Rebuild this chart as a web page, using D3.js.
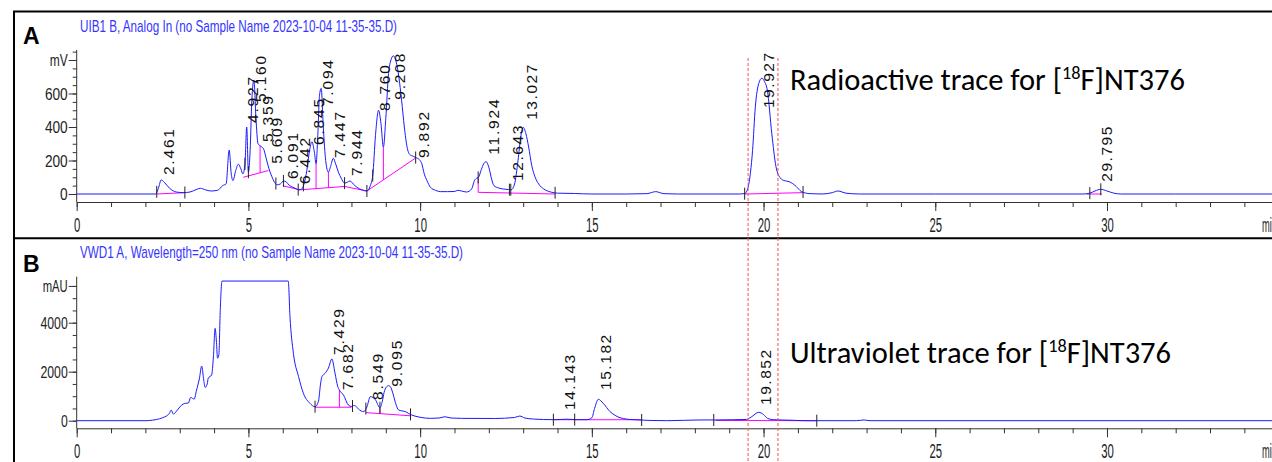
<!DOCTYPE html>
<html><head><meta charset="utf-8">
<script src="https://cdn.jsdelivr.net/npm/d3@7"></script>
<style>html,body{margin:0;padding:0;background:#fff;overflow:hidden}</style>
</head><body>
<svg id="c" width="1272" height="462" xmlns="http://www.w3.org/2000/svg"></svg>
<script>
// ---------------- DATA ----------------
// Panel A: radioactive trace (mV)
const TIME_A = [0,2.3,2.38,2.46,2.55,2.7,2.9,3.1,3.3,3.5,3.6,3.75,3.9,4.1,4.25,4.35,4.44,4.5,4.55,4.63,4.71,4.78,4.84,4.9,4.95,5.0,5.05,5.1,5.16,5.22,5.28,5.36,5.44,5.52,5.6,5.68,5.76,5.84,5.93,6.02,6.1,6.2,6.3,6.4,6.47,6.55,6.62,6.7,6.78,6.85,6.92,6.97,7.02,7.07,7.12,7.18,7.25,7.33,7.4,7.47,7.54,7.62,7.7,7.8,7.88,7.96,8.05,8.16,8.3,8.45,8.55,8.62,8.7,8.79,8.86,8.93,9.0,9.08,9.15,9.22,9.3,9.38,9.46,9.54,9.62,9.7,9.8,9.9,9.98,10.05,10.12,10.2,10.3,10.45,10.6,10.8,11.0,11.1,11.2,11.35,11.5,11.58,11.65,11.7,11.78,11.85,11.92,12.0,12.08,12.15,12.3,12.5,12.65,12.75,12.85,12.93,13.0,13.08,13.16,13.25,13.35,13.45,13.6,13.8,14.0,14.5,15.0,16.0,16.6,16.86,17.1,17.5,18.5,19.3,19.45,19.55,19.62,19.68,19.76,19.86,19.95,20.03,20.11,20.24,20.36,20.49,20.6,20.74,20.85,20.95,21.1,21.35,21.7,22.0,22.17,22.4,22.8,25,29.3,29.5,29.65,29.82,30.0,30.2,30.4,32,35];
const MV_A = [0,0,35,84,70,35,12,8,12,28,34,25,18,22,50,60,262,120,80,140,178,150,120,180,400,130,260,560,680,450,300,285,270,210,150,105,70,55,60,78,72,50,40,30,25,30,60,140,260,312,250,180,350,590,631,400,200,130,170,213,180,130,95,65,70,78,60,40,25,18,50,110,350,500,420,280,450,720,800,825,790,700,560,400,280,235,225,215,205,180,120,80,40,22,14,14,15,22,18,12,30,80,95,100,145,180,193,160,90,50,35,28,25,60,200,340,398,360,280,170,100,60,30,12,5,3,0,0,2,14,2,0,0,0,2,40,130,260,520,660,691,670,620,360,165,95,80,74,62,45,15,2,0,8,18,5,0,0,0,5,18,28,18,5,0,0,0];

// Panel B: UV trace (mAU)
const TIME_B = [0,1.99,2.2,2.33,2.5,2.61,2.7,2.75,2.82,2.9,3.01,3.1,3.16,3.25,3.32,3.42,3.49,3.57,3.64,3.7,3.74,3.8,3.83,3.93,3.98,4.03,4.07,4.1,4.14,4.18,4.23,6.16,6.21,6.31,6.46,6.6,6.79,6.94,7.04,7.1,7.14,7.23,7.33,7.43,7.52,7.6,7.65,7.77,7.91,8.0,8.06,8.12,8.2,8.36,8.45,8.55,8.63,8.7,8.83,8.9,8.95,9.02,9.08,9.15,9.22,9.3,9.37,9.47,9.57,9.66,9.76,10.0,10.3,10.55,10.72,10.9,11.2,12.17,12.75,12.9,13.05,13.3,13.88,14.27,14.5,14.85,15.0,15.08,15.19,15.33,15.53,15.7,15.82,16.2,17.18,18.15,18.6,19.1,19.5,19.64,19.86,20.0,20.12,20.3,20.8,21.2,22.7,22.93,23.1,35];
const MAU_B = [0,0,20,50,120,190,300,430,270,380,570,680,710,720,950,880,1250,1700,2230,1650,1360,1500,1730,1870,2600,3770,3200,2550,2700,4500,5700,5700,4250,2750,1800,1120,710,570,800,1500,1800,1930,2150,2520,1950,1400,1250,1040,640,580,620,600,480,370,560,980,950,850,530,800,1150,1380,1430,1350,1050,650,440,400,370,300,230,140,95,110,160,110,95,90,130,190,110,68,41,60,45,41,120,500,873,710,370,200,122,41,0,30,30,40,50,150,343,250,90,40,20,0,0,30,0,0];

// Peak labels (retention time text) and the signal level where each label starts
const LABEL_A = ["2.461","4.927","5.160","5.359","5.609","6.091","6.442","6.845","7.094","7.447","7.944","8.760","9.208","9.892","11.924","12.643","13.027","19.927","29.795"];
const LABEL_A_V = [113,424,550,310,180,90,60,293,525,215,107,495,563,215,235,78,443,513,73];
const LABEL_B = ["7.429","7.682","8.549","9.095","14.143","15.182","19.852"];
const LABEL_B_V = [2680,1250,845,1387,437,1253,640];

// Integration baselines (time, value) and peak-split drop lines
const BASE_A = [[[2.33,0],[3.15,8]],[[4.85,100],[5.58,140]],[[6.02,48],[6.5,25],[7.8,45],[8.45,18]],[[8.45,18],[9.87,215]],[[11.69,10],[13.93,0]],[[19.45,0],[21.15,8]],[[29.4,0],[29.85,0]]];
const DROP_A = [5.34,6.97,7.33,8.93,11.69];
const BASE_B = [[[6.94,550],[8.0,550]],[[8.42,330],[9.72,200]],[[13.88,40],[16.45,40]],[[18.6,10],[21.55,0]]];
const DROP_B = [7.65,8.83];
// Integration event markers (times)
const MARK_A = [2.33,3.15,4.9,5.0,5.8,6.02,6.45,6.6,7.8,8.45,8.62,9.87,11.69,12.6,12.64,13.93,19.45,21.15,29.5,29.82];
const MARK_B = [6.94,8.03,8.42,8.83,9.72,13.88,14.5,16.45,18.55,21.55];

// Axis ticks
const X_MAJOR = [0,5,10,15,20,25,30];
const YA_MAJOR = [0,200,400,600];
const YB_MAJOR = [0,2000,4000];
// Reference window (red dashed lines), minutes
const REF_T = [19.55,20.42];

// ---------------- DRAW ----------------
const svg = d3.select('#c');
const NARROW = "'Liberation Sans Narrow','Arial Narrow','Liberation Sans',Arial,sans-serif";
const X0 = 76.7, PXMIN = 34.343;
const x = d3.scaleLinear().domain([0,35]).range([X0, X0 + 35*PXMIN]);
const yA = d3.scaleLinear().domain([0,800]).range([194,60]);
const yB = d3.scaleLinear().domain([0,4000]).range([420.7,322.7]);

function interp(ts, vs, t){
  const i = d3.bisectLeft(ts, t);
  if (i <= 0) return vs[0];
  if (i >= ts.length) return vs[vs.length-1];
  const f = (t - ts[i-1])/(ts[i]-ts[i-1]);
  return vs[i-1] + f*(vs[i]-vs[i-1]);
}
function interpPoly(poly, t){
  return interp(poly.map(p=>p[0]), poly.map(p=>p[1]), t);
}

// frame
svg.append('rect').attr('x',14).attr('y',11.5).attr('width',1300).attr('height',520)
  .attr('fill','none').attr('stroke','#000').attr('stroke-width',2);
svg.append('line').attr('x1',14).attr('x2',1272).attr('y1',238.3).attr('y2',238.3)
  .attr('stroke','#000').attr('stroke-width',2);

function panel(o){
  const g = svg.append('g');
  const y = o.y;
  // x axis minor
  g.append('g').attr('transform',`translate(0,${o.axisY})`)
    .call(d3.axisBottom(x).tickValues(d3.range(0,35,1)).tickSize(5).tickSizeOuter(0).tickFormat(''))
    .call(s=>{s.select('.domain').attr('stroke','#333');s.selectAll('line').attr('stroke','#333');});
  // x axis major
  g.append('g').attr('transform',`translate(0,${o.axisY})`)
    .call(d3.axisBottom(x).tickValues(X_MAJOR).tickSize(9).tickSizeOuter(0).tickFormat(d3.format('d')))
    .call(s=>{
      s.select('.domain').remove();
      s.selectAll('line').attr('stroke','#333');
      s.selectAll('text').attr('y',29.5).attr('dy',null)
        .attr('font-family',NARROW).attr('font-size',20.5).attr('fill','#222')
        .attr('textLength',d=>String(d).length*6.3).attr('lengthAdjust','spacingAndGlyphs');
    });
  g.append('text').attr('x',1262).attr('y',o.axisY+29.5).text('min')
    .attr('font-family',NARROW).attr('font-size',20.5).attr('fill','#222')
    .attr('textLength',15).attr('lengthAdjust','spacingAndGlyphs');
  // y axis
  g.append('line').attr('x1',X0).attr('x2',X0).attr('y1',o.yTop).attr('y2',o.axisY).attr('stroke','#333');
  g.append('g').attr('transform',`translate(${X0},0)`)
    .call(d3.axisLeft(y).tickValues(o.yMinor).tickSize(4).tickFormat(''))
    .call(s=>{s.select('.domain').remove();s.selectAll('line').attr('stroke','#333');});
  g.append('g').attr('transform',`translate(${X0},0)`)
    .call(d3.axisLeft(y).tickValues(o.yMajor.concat([o.unitV])).tickSize(8)
      .tickFormat(d=> d===o.unitV ? o.unit : String(d)))
    .call(s=>{
      s.select('.domain').remove();
      s.selectAll('line').attr('stroke','#333');
      s.selectAll('text').attr('x',-9).attr('dy','0.36em')
        .attr('font-family',NARROW).attr('font-size',16).attr('fill','#222')
        .attr('textLength',d=> d===o.unitV ? o.unitW : String(d).length*o.digitW)
        .attr('lengthAdjust','spacingAndGlyphs');
    });
  // title
  g.append('text').attr('x',80).attr('y',o.titleY).text(o.title)
    .attr('font-family',NARROW).attr('font-size',17).attr('fill','#3535ff')
    .attr('textLength',o.titleW).attr('lengthAdjust','spacingAndGlyphs');
  // panel letter
  g.append('text').attr('x',23).attr('y',o.letterY).text(o.letter)
    .attr('font-family',"'Liberation Sans',Arial,sans-serif").attr('font-weight','bold')
    .attr('font-size',23).attr('fill','#000');
  // baselines (pink)
  const line = d3.line().x(d=>x(d[0])).y(d=>y(d[1]));
  o.base.forEach(poly=>{
    g.append('path').attr('d',line(poly)).attr('fill','none').attr('stroke','#ff00ff').attr('stroke-width',1);
  });
  o.drop.forEach(t=>{
    const poly = o.base.find(p=>t>=p[0][0] && t<=p[p.length-1][0]);
    const vb = poly ? interpPoly(poly,t) : 0;
    const vc = interp(o.times,o.vals,t);
    g.append('line').attr('x1',x(t)).attr('x2',x(t)).attr('y1',y(vb)).attr('y2',y(vc))
      .attr('stroke','#ff00ff').attr('stroke-width',1);
  });
  // trace
  const pts = o.times.map((t,i)=>[t,o.vals[i]]);
  g.append('path').attr('d',d3.line().x(d=>x(d[0])).y(d=>y(d[1])).curve(d3.curveMonotoneX)(pts))
    .attr('fill','none').attr('stroke','#1a1aff').attr('stroke-width',1);
  // markers
  o.marks.forEach(t=>{
    const v = interp(o.times,o.vals,t);
    g.append('line').attr('x1',x(t)).attr('x2',x(t)).attr('y1',y(v)-6).attr('y2',y(v)+6)
      .attr('stroke','#222').attr('stroke-width',1);
  });
  // peak labels
  o.labels.forEach((lab,i)=>{
    const t = +lab;
    g.append('text').text(lab)
      .attr('transform',`translate(${x(t)+12.5},${y(o.labelV[i])}) rotate(-90)`)
      .attr('font-family',"'Liberation Sans',Arial,sans-serif").attr('font-size',15.5).attr('fill','#111')
      .attr('textLength',lab.length*9.2).attr('lengthAdjust','spacing');
  });
}

panel({y:yA, axisY:202, yTop:50, times:TIME_A, vals:MV_A,
  yMajor:YA_MAJOR, yMinor:d3.range(0,851,50), unit:'mV', unitV:800, unitW:18, digitW:7.6,
  title:'UIB1 B, Analog In (no Sample Name 2023-10-04 11-35-35.D)', titleY:32, titleW:317,
  letter:'A', letterY:44, base:BASE_A, drop:DROP_A, marks:MARK_A, labels:LABEL_A, labelV:LABEL_A_V});
panel({y:yB, axisY:428.3, yTop:276.7, times:TIME_B, vals:MAU_B,
  yMajor:YB_MAJOR, yMinor:d3.range(0,5501,500), unit:'mAU', unitV:5500, unitW:25, digitW:6.8,
  title:'VWD1 A, Wavelength=250 nm (no Sample Name 2023-10-04 11-35-35.D)', titleY:258, titleW:383,
  letter:'B', letterY:272, base:BASE_B, drop:DROP_B, marks:MARK_B, labels:LABEL_B, labelV:LABEL_B_V});

// red dashed reference lines
REF_T.forEach(t=>{
  svg.append('line').attr('x1',x(t)).attr('x2',x(t)).attr('y1',58).attr('y2',462)
    .attr('stroke','#ff4d4d').attr('stroke-width',1).attr('stroke-dasharray','3,2');
});

// annotations
function note(txt1, y, w){
  const t = svg.append('text').attr('x',790).attr('y',y)
    .attr('font-family',"Carlito,Calibri,'Open Sans','Noto Sans',sans-serif").attr('font-size',30).attr('fill','#000')
    .attr('textLength',w).attr('lengthAdjust','spacingAndGlyphs');
  t.append('tspan').text(txt1 + ' [');
  t.append('tspan').text('18').attr('font-size',18).attr('dy',-11);
  t.append('tspan').text('F]NT376').attr('dy',11);
}
note('Radioactive trace for', 90, 395);
note('Ultraviolet trace for', 363, 381);
</script></body></html>
